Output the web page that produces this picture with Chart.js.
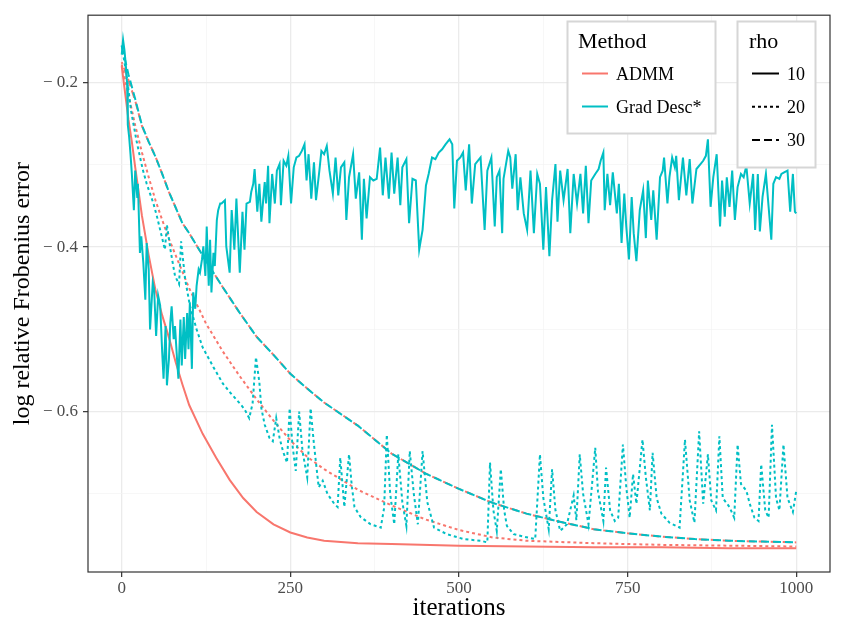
<!DOCTYPE html>
<html>
<head>
<meta charset="utf-8">
<script src="https://cdn.jsdelivr.net/npm/chart.js@4.4.1/dist/chart.umd.min.js"></script>
<style>
  html, body { margin: 0; padding: 0; background: #fff; }
  #wrap { position: relative; width: 841px; height: 631px; }
  #legend { position: absolute; left: 0; top: 0; pointer-events: none; }
  #legend text { font-family: 'Liberation Serif', 'Times New Roman', serif; fill: #000; }
</style>
</head>
<body>
<div id="wrap">
  <canvas id="chartFrob" width="841" height="631"></canvas>
  <svg id="legend" width="841" height="631"></svg>
</div>
<script>
// categories
const methods = ["ADMM", "Grad Desc*"];
const rhoLevels = ["10", "20", "30"];

// axis ticks
const xMajorTicks = [0, 250, 500, 750, 1000];
const xMinorTicks = [125, 375, 625, 875];
const yMajorTicks = [-0.6, -0.4, -0.2];
const yMinorTicks = [-0.7, -0.5, -0.3];

// ADMM, rho = 10
const admm10Iter = [0, 10, 15, 20, 30, 40, 50, 60, 70, 80, 90, 100, 120, 140, 160, 180, 200, 225, 250, 275, 300, 350, 400, 500, 600, 700, 800, 900, 1000];
const admm10Val = [-0.180, -0.245, -0.272, -0.303, -0.362, -0.410, -0.452, -0.483, -0.510, -0.540, -0.567, -0.592, -0.627, -0.656, -0.683, -0.705, -0.722, -0.737, -0.747, -0.753, -0.757, -0.760, -0.761, -0.763, -0.764, -0.765, -0.765, -0.766, -0.766];

// ADMM, rho = 20
const admm20Iter = [0, 10, 20, 30, 40, 50, 60, 70, 80, 90, 100, 125, 150, 175, 200, 225, 250, 275, 300, 350, 400, 450, 500, 550, 600, 700, 800, 900, 1000];
const admm20Val = [-0.178, -0.215, -0.252, -0.285, -0.315, -0.343, -0.367, -0.390, -0.410, -0.430, -0.450, -0.493, -0.527, -0.557, -0.585, -0.611, -0.635, -0.655, -0.670, -0.695, -0.714, -0.731, -0.744, -0.753, -0.757, -0.760, -0.762, -0.763, -0.764];

// rho = 30 (both methods nearly coincide)
const rho30Iter = [0, 10, 20, 30, 40, 50, 60, 70, 80, 90, 100, 125, 150, 175, 200, 225, 250, 275, 300, 350, 400, 450, 500, 550, 600, 650, 700, 750, 800, 850, 900, 950, 1000];
const admm30Val = [-0.175, -0.197, -0.222, -0.253, -0.272, -0.290, -0.311, -0.333, -0.352, -0.371, -0.383, -0.417, -0.449, -0.480, -0.509, -0.531, -0.554, -0.572, -0.589, -0.617, -0.651, -0.675, -0.694, -0.711, -0.724, -0.734, -0.743, -0.748, -0.752, -0.755, -0.757, -0.758, -0.759];
const gd30Val = [-0.155, -0.190, -0.220, -0.252, -0.272, -0.290, -0.311, -0.333, -0.352, -0.371, -0.383, -0.417, -0.449, -0.480, -0.509, -0.531, -0.554, -0.572, -0.589, -0.617, -0.651, -0.675, -0.694, -0.711, -0.724, -0.734, -0.743, -0.748, -0.752, -0.755, -0.757, -0.758, -0.759];

// Grad Desc*, rho = 10 (noisy)
const gd10Iter = [0, 2, 4, 6, 8, 9, 11, 13, 15, 18, 20, 23, 24, 27, 29, 32, 35, 37, 40, 42, 46, 48, 51, 54, 57, 60, 62, 65, 67, 70, 72, 74, 77, 79, 82, 84, 87, 89, 92, 94, 97, 99,
  101, 104, 106, 109, 111, 114, 116, 119, 121, 124, 126, 129, 131, 133, 136, 138, 141, 143, 146, 148, 153, 155, 160, 163, 167, 170, 175, 179, 182, 185, 190, 192, 195, 197,
  201, 204, 207, 212, 214, 217, 219, 223, 227, 230, 234, 236, 240, 244, 247, 251, 255, 259, 263, 267, 271, 274, 277, 281, 285, 288, 293, 296,
  300, 304, 308, 313, 317, 321, 325, 330, 333, 337, 343, 347, 352, 356, 359, 363, 368, 373, 378, 383, 387, 391, 396,
  400, 404, 409, 413, 416, 422, 426, 431, 436, 441, 446, 451, 455, 460, 465, 470, 475, 480, 486, 490, 493, 497,
  502, 506, 510, 515, 519, 524, 532, 538, 542, 548, 553, 556, 560, 564, 566, 573, 576, 579, 584, 587, 591, 596,
  601, 606, 611, 616, 620, 625, 629, 634, 638, 643, 646, 650, 655, 661, 665, 670, 675, 680, 684, 688, 692, 696,
  702, 707, 710, 714, 716, 720, 724, 728, 734, 737, 741, 745, 748, 752, 756, 759, 763, 768, 773, 777, 780, 785, 788, 793, 798,
  802, 804, 809, 812, 816, 820, 822, 826, 832, 837, 842, 846, 852, 858, 862, 866, 869, 873, 877, 882, 887, 890, 894, 897,
  901, 905, 909, 913, 918, 922, 926, 931, 936, 939, 943, 946, 950, 955, 959, 963, 966, 970, 975, 978, 982, 987, 991, 995, 998, 1000];
const gd10Val = [-0.166, -0.148, -0.160, -0.178, -0.202, -0.251, -0.266, -0.287, -0.311, -0.355, -0.307, -0.339, -0.323, -0.407, -0.387, -0.419, -0.464, -0.395, -0.427, -0.500, -0.443, -0.451, -0.508, -0.459, -0.471, -0.528, -0.560, -0.496, -0.568, -0.536, -0.492, -0.472, -0.512, -0.496, -0.536, -0.560, -0.488, -0.544, -0.485, -0.536, -0.480, -0.524,
  -0.467, -0.548, -0.455, -0.475, -0.447, -0.427, -0.431, -0.415, -0.399, -0.435, -0.375, -0.447, -0.391, -0.455, -0.407, -0.423, -0.367, -0.355, -0.347, -0.347, -0.343, -0.399, -0.431, -0.355, -0.403, -0.341, -0.431, -0.357, -0.403, -0.347, -0.345, -0.333, -0.323, -0.305,
  -0.357, -0.323, -0.369, -0.321, -0.347, -0.301, -0.371, -0.311, -0.347, -0.307, -0.299, -0.349, -0.295, -0.301, -0.289, -0.347, -0.303, -0.291, -0.289, -0.283, -0.275, -0.319, -0.287, -0.341, -0.297, -0.343, -0.307, -0.283,
  -0.287, -0.277, -0.307, -0.335, -0.291, -0.337, -0.303, -0.297, -0.367, -0.315, -0.287, -0.341, -0.309, -0.391, -0.317, -0.365, -0.315, -0.319, -0.317, -0.279, -0.337, -0.291, -0.341,
  -0.285, -0.335, -0.291, -0.349, -0.303, -0.293, -0.371, -0.317, -0.319, -0.403, -0.379, -0.325, -0.311, -0.291, -0.293, -0.285, -0.281, -0.275, -0.269, -0.275, -0.353, -0.295,
  -0.291, -0.285, -0.331, -0.275, -0.347, -0.299, -0.291, -0.379, -0.307, -0.291, -0.375, -0.315, -0.307, -0.383, -0.317, -0.283, -0.291, -0.329, -0.287, -0.355, -0.315, -0.359,
  -0.379, -0.307, -0.383, -0.311, -0.323, -0.403, -0.327, -0.411, -0.343, -0.299, -0.369, -0.307, -0.343, -0.305, -0.383, -0.311, -0.347, -0.311, -0.359, -0.301, -0.371, -0.319,
  -0.311, -0.305, -0.295, -0.285, -0.355, -0.311, -0.349, -0.309, -0.359, -0.323, -0.395, -0.335, -0.375, -0.415, -0.339, -0.383, -0.417, -0.355, -0.331, -0.389, -0.319, -0.367, -0.331, -0.391, -0.315,
  -0.307, -0.291, -0.347, -0.315, -0.291, -0.303, -0.289, -0.343, -0.291, -0.337, -0.293, -0.347, -0.305, -0.299, -0.295, -0.289, -0.269, -0.351, -0.315, -0.287, -0.375, -0.319, -0.363, -0.315,
  -0.351, -0.307, -0.367, -0.327, -0.311, -0.315, -0.301, -0.347, -0.311, -0.379, -0.311, -0.381, -0.339, -0.311, -0.351, -0.391, -0.323, -0.315, -0.317, -0.311, -0.309, -0.307, -0.357, -0.311, -0.357, -0.359];

// Grad Desc*, rho = 20 (decay with restarts)
const gd20Iter = [0, 4, 9, 14, 22, 27, 31, 37, 42, 47, 52, 57, 64, 67, 73, 79, 85, 88, 94,
  101, 111, 120, 136, 150, 162, 175, 182, 189, 194, 199, 204, 207, 212, 219, 224, 229, 234, 239, 245, 249, 253, 258, 263, 268, 275, 280, 285, 292, 298,
  305, 315, 320, 324, 330, 337, 341, 345, 354, 369, 384, 389, 393, 398, 404, 410, 416, 422, 427, 433, 439, 446, 453, 463, 482,
  507, 532, 542, 546, 551, 556, 562, 567, 571, 581, 596, 613, 620, 625, 633, 638, 643, 650, 660, 670, 674, 679, 684, 692,
  702, 706, 714, 718, 724, 731, 736, 743, 748, 753, 758, 763, 772, 777, 783, 787, 793,
  800, 812, 827, 835, 842, 849, 856, 862, 869, 874, 881, 886, 891,
  901, 908, 913, 918, 926, 931, 938, 944, 948, 954, 959, 964, 970, 975, 981, 987, 995, 1000];
const gd20Val = [-0.155, -0.175, -0.202, -0.235, -0.271, -0.290, -0.305, -0.323, -0.335, -0.347, -0.362, -0.379, -0.403, -0.373, -0.407, -0.435, -0.445, -0.393, -0.439,
  -0.471, -0.500, -0.522, -0.546, -0.566, -0.578, -0.590, -0.597, -0.608, -0.590, -0.534, -0.564, -0.596, -0.616, -0.632, -0.636, -0.608, -0.632, -0.648, -0.662, -0.596, -0.640, -0.672, -0.600, -0.648, -0.680, -0.596, -0.640, -0.692, -0.684,
  -0.700, -0.712, -0.716, -0.656, -0.716, -0.652, -0.690, -0.716, -0.728, -0.737, -0.741, -0.717, -0.628, -0.700, -0.737, -0.652, -0.710, -0.739, -0.648, -0.700, -0.737, -0.648, -0.710, -0.741, -0.749,
  -0.755, -0.757, -0.759, -0.662, -0.720, -0.745, -0.670, -0.720, -0.739, -0.749, -0.752, -0.755, -0.652, -0.705, -0.743, -0.670, -0.720, -0.745, -0.737, -0.702, -0.732, -0.652, -0.700, -0.737,
  -0.644, -0.697, -0.733, -0.668, -0.720, -0.733, -0.729, -0.640, -0.692, -0.729, -0.676, -0.712, -0.634, -0.680, -0.720, -0.650, -0.705,
  -0.724, -0.735, -0.741, -0.634, -0.708, -0.735, -0.624, -0.712, -0.652, -0.708, -0.720, -0.630, -0.705,
  -0.716, -0.729, -0.640, -0.688, -0.696, -0.712, -0.729, -0.733, -0.664, -0.720, -0.729, -0.616, -0.705, -0.720, -0.640, -0.705, -0.722, -0.696];

const colRed = "#F8766D";
const colCyan = "#00BFC4";
const dashFor = { "10": [], "20": [3, 3], "30": [8, 4] };
const serif = "'Liberation Serif', 'Times New Roman', serif";

function pts(xs, ys) {
    return xs.map((x, i) => ({ x: x, y: ys[i] }));
}

function near(v, list) {
    return list.some(t => Math.abs(t - v) < 1e-6);
}

// first dataset is drawn on top in Chart.js, so Grad Desc* goes first
const dataFrob = {
    datasets: [
        { label: methods[1] + " " + rhoLevels[0], data: pts(gd10Iter, gd10Val), borderColor: colCyan, borderDash: dashFor["10"] },
        { label: methods[1] + " " + rhoLevels[1], data: pts(gd20Iter, gd20Val), borderColor: colCyan, borderDash: dashFor["20"] },
        { label: methods[1] + " " + rhoLevels[2], data: pts(rho30Iter, gd30Val), borderColor: colCyan, borderDash: dashFor["30"] },
        { label: methods[0] + " " + rhoLevels[0], data: pts(admm10Iter, admm10Val), borderColor: colRed, borderDash: dashFor["10"] },
        { label: methods[0] + " " + rhoLevels[1], data: pts(admm20Iter, admm20Val), borderColor: colRed, borderDash: dashFor["20"] },
        { label: methods[0] + " " + rhoLevels[2], data: pts(rho30Iter, admm30Val), borderColor: colRed, borderDash: dashFor["30"], borderDashOffset: 6 },
    ],
};
dataFrob.datasets.forEach(d => {
    d.borderWidth = 2;
    d.pointRadius = 0;
    d.tension = 0;
    d.fill = false;
});

const panelBorder = {
    id: "panelBorder",
    afterDatasetsDraw(chart) {
        const { ctx, chartArea: a } = chart;
        ctx.save();
        ctx.strokeStyle = "#333333";
        ctx.lineWidth = 1.2;
        ctx.strokeRect(a.left, a.top, a.right - a.left, a.bottom - a.top);
        ctx.restore();
    },
};

function gridOpts(majors) {
    return {
        color: c => (c.tick && near(c.tick.value, majors)) ? "#EBEBEB" : "#F4F4F4",
        lineWidth: c => (c.tick && near(c.tick.value, majors)) ? 1.3 : 0.7,
        tickColor: c => (c.tick && near(c.tick.value, majors)) ? "#333333" : "rgba(0,0,0,0)",
        tickWidth: 1.2,
        tickLength: 5,
        drawTicks: true,
    };
}

const configFrob = {
    type: "line",
    data: dataFrob,
    options: {
        responsive: false,
        animation: false,
        layout: { padding: { top: 10, right: 11, left: 0, bottom: 0 } },
        plugins: { legend: { display: false }, tooltip: { enabled: false } },
        scales: {
            x: {
                type: "linear",
                min: -50,
                max: 1050,
                afterBuildTicks: s => { s.ticks = xMajorTicks.concat(xMinorTicks).sort((a, b) => a - b).map(v => ({ value: v })); },
                afterFit: s => { s.height = 59; },
                grid: gridOpts(xMajorTicks),
                border: { display: false },
                ticks: {
                    autoSkip: false,
                    maxRotation: 0,
                    padding: 1,
                    color: "#4D4D4D",
                    font: { family: serif, size: 17 },
                    callback: v => near(v, xMajorTicks) ? String(v) : "",
                },
                title: {
                    display: true,
                    text: "iterations",
                    color: "#000",
                    font: { family: serif, size: 25 },
                    padding: { top: 0, bottom: 8 },
                },
            },
            y: {
                type: "linear",
                min: -0.795,
                max: -0.118,
                afterBuildTicks: s => { s.ticks = yMinorTicks.concat(yMajorTicks).sort((a, b) => a - b).map(v => ({ value: v })); },
                afterFit: s => { s.width = 88; },
                grid: gridOpts(yMajorTicks),
                border: { display: false },
                ticks: {
                    autoSkip: false,
                    padding: 5,
                    color: "#4D4D4D",
                    font: { family: serif, size: 17 },
                    callback: v => near(v, yMajorTicks) ? "\u2212 " + Math.abs(v).toFixed(1) : "",
                },
                title: {
                    display: true,
                    text: "log relative Frobenius error",
                    color: "#000",
                    font: { family: serif, size: 24 },
                    padding: { top: 8, bottom: 0 },
                },
            },
        },
    },
    plugins: [panelBorder],
};

var chartFrob = new Chart(document.getElementById("chartFrob"), configFrob);

// legend boxes (ggplot style, inside the panel)
const svgNS = "http://www.w3.org/2000/svg";
const legend = document.getElementById("legend");

function add(tag, attrs, text) {
    const el = document.createElementNS(svgNS, tag);
    for (const k in attrs) el.setAttribute(k, attrs[k]);
    if (text !== undefined) el.textContent = text;
    legend.appendChild(el);
    return el;
}

// Method box
add("rect", { x: 567.5, y: 21.5, width: 148, height: 112, fill: "#fff", stroke: "#D6D6D6", "stroke-width": 2 });
add("text", { x: 578, y: 48, "font-size": 22 }, "Method");
[colRed, colCyan].forEach((c, i) => {
    const y = 73.5 + i * 33;
    add("line", { x1: 582, x2: 608, y1: y, y2: y, stroke: c, "stroke-width": 2 });
    add("text", { x: 616, y: y + 6, "font-size": 18 }, methods[i]);
});

// rho box
add("rect", { x: 737.5, y: 21.5, width: 78, height: 146, fill: "#fff", stroke: "#D6D6D6", "stroke-width": 2 });
add("text", { x: 749, y: 47.5, "font-size": 22 }, "rho");
rhoLevels.forEach((r, i) => {
    const y = 73.5 + i * 33.3;
    add("line", { x1: 752, x2: 779, y1: y, y2: y, stroke: "#000", "stroke-width": 2, "stroke-dasharray": dashFor[r].join(",") || "none" });
    add("text", { x: 787, y: y + 6, "font-size": 18 }, r);
});
</script>
</body>
</html>
